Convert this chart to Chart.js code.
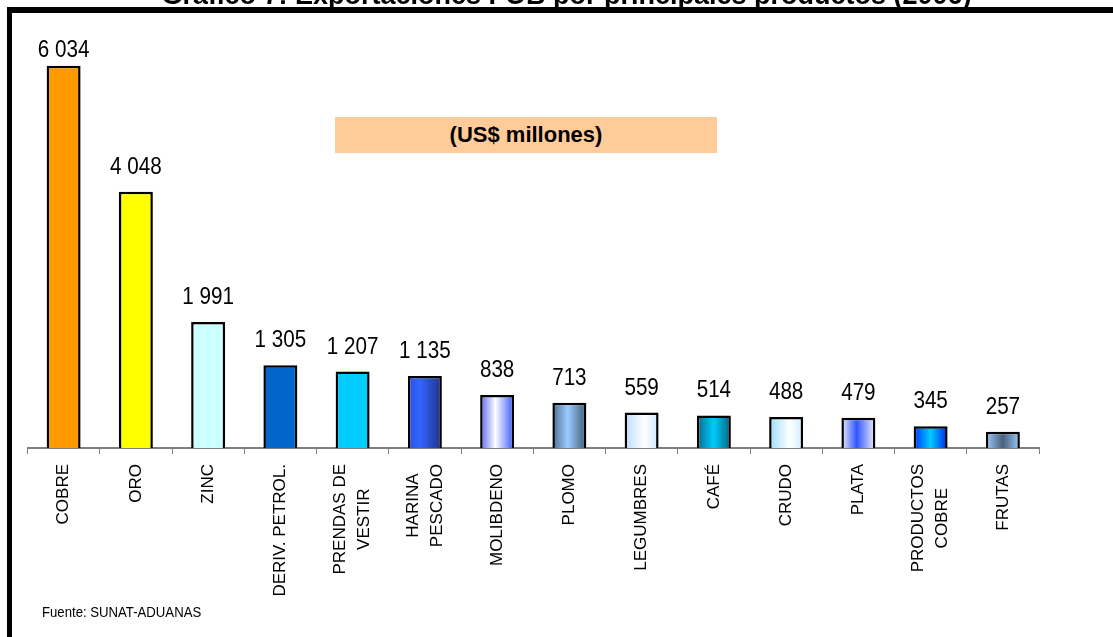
<!DOCTYPE html>
<html>
<head>
    <title>Exportaciones FOB por principales productos</title>
    <script src="https://cdn.jsdelivr.net/npm/chart.js@4.4.0/dist/chart.umd.min.js"></script>
    <style>
        body {
            margin: 0;
            width: 1113px;
            height: 637px;
            overflow: hidden;
            position: relative;
            background: #fff;
            font-family: "Liberation Sans", Arial, sans-serif;
        }
        #chart {
            position: absolute;
            left: 0;
            top: 0;
        }
        .title {
            position: absolute;
            left: 10px;
            width: 1113px;
            top: -18px;
            line-height: 27px;
            font-size: 27px;
            font-weight: bold;
            text-align: center;
            white-space: nowrap;
        }
        .frame-top {
            position: absolute;
            left: 7px;
            top: 7px;
            width: 1106px;
            height: 6px;
            background: #000;
        }
        .frame-left {
            position: absolute;
            left: 7px;
            top: 7px;
            width: 5px;
            height: 630px;
            background: #000;
        }
        .unit-box {
            position: absolute;
            left: 335px;
            top: 117px;
            width: 382px;
            height: 36px;
            line-height: 36px;
            background: #FFCC99;
            text-align: center;
            font-weight: bold;
            font-size: 22px;
        }
        .source {
            position: absolute;
            left: 42px;
            top: 604px;
            font-size: 14px;
            color: #000;
            transform: scaleX(0.94);
            transform-origin: left top;
        }
    </style>
</head>
<body>
    <canvas id="chart" width="1113" height="637"></canvas>
    <div class="title">Gráfico 7: Exportaciones FOB por principales productos (2006)</div>
    <div class="frame-top"></div>
    <div class="frame-left"></div>
    <div class="unit-box">(US$ millones)</div>
    <div class="source">Fuente: SUNAT-ADUANAS</div>

    <script>
        // Exportaciones 2006, US$ millones
        const categories = [
            ['COBRE'], ['ORO'], ['ZINC'], ['DERIV. PETROL.'], ['PRENDAS DE', 'VESTIR'],
            ['HARINA', 'PESCADO'], ['MOLIBDENO'], ['PLOMO'], ['LEGUMBRES'], ['CAFÉ'],
            ['CRUDO'], ['PLATA'], ['PRODUCTOS', 'COBRE'], ['FRUTAS']
        ];
        const values = [6034, 4048, 1991, 1305, 1207, 1135, 838, 713, 559, 514, 488, 479, 345, 257];

        // bar fills: left -> right colour stops
        const fills = [
            [[0, '#FF9900'], [1, '#FF9900']],
            [[0, '#FFFF00'], [1, '#FFFF00']],
            [[0, '#CCFFFF'], [1, '#CCFFFF']],
            [[0, '#0066CC'], [1, '#0066CC']],
            [[0, '#00CCFF'], [1, '#00CCFF']],
            [[0, '#2a4fe0'], [0.35, '#3366FF'], [1, '#1f3388']],
            [[0, '#5566ee'], [0.45, '#ffffff'], [1, '#3355ff']],
            [[0, '#4d6d90'], [0.45, '#99ccff'], [1, '#3f5a77']],
            [[0, '#bbddff'], [0.6, '#ffffff'], [1, '#cce6ff']],
            [[0, '#006a8a'], [0.5, '#00ccff'], [1, '#00607a']],
            [[0, '#99ddff'], [0.6, '#ffffff'], [1, '#ccefff']],
            [[0, '#eeeeff'], [0.45, '#3355ff'], [1, '#f0f0ff']],
            [[0, '#0033ff'], [0.5, '#00ccff'], [1, '#0022ee']],
            [[0, '#99ccff'], [0.5, '#4a5f7a'], [1, '#99ccff']]
        ];

        function fmt(v) {
            return String(v).replace(/\B(?=(\d{3})+(?!\d))/g, ' ');
        }

        function barFill(ctx) {
            const chart = ctx.chart;
            const stops = fills[ctx.dataIndex];
            if (!chart.chartArea || !chart.scales.x) return stops[0][1];
            const x = chart.scales.x.getPixelForValue(ctx.dataIndex);
            const g = chart.ctx.createLinearGradient(x - 17, 0, x + 17, 0);
            stops.forEach(s => g.addColorStop(s[0], s[1]));
            return g;
        }

        const labelsPlugin = {
            id: 'labels',
            afterDatasetsDraw(chart) {
                const c = chart.ctx;
                const xs = chart.scales.x, ys = chart.scales.y;
                c.save();
                c.fillStyle = '#000';

                // value labels (narrow look)
                c.font = '24px "Liberation Sans", Arial, sans-serif';
                c.textAlign = 'center';
                c.textBaseline = 'alphabetic';
                values.forEach((v, i) => {
                    const x = xs.getPixelForValue(i);
                    const y = Math.max(ys.getPixelForValue(v) - 18, 57);
                    c.save();
                    c.translate(x, y);
                    c.scale(0.86, 1);
                    c.fillText(fmt(v), 0, 0);
                    c.restore();
                });

                // category labels, rotated
                c.font = '17px "Liberation Sans", Arial, sans-serif';
                c.textBaseline = 'middle';
                const lh = 24;
                categories.forEach((lines, i) => {
                    const x = xs.getPixelForValue(i);
                    const maxW = Math.max(...lines.map(l => c.measureText(l).width));
                    c.save();
                    c.translate(x, xs.bottom + 10);
                    c.rotate(-Math.PI / 2);
                    lines.forEach((l, j) => {
                        const off = (j - (lines.length - 1) / 2) * lh;
                        c.fillText(l, -maxW / 2, off);
                    });
                    c.restore();
                });
                c.restore();
            }
        };

        new Chart(document.getElementById('chart'), {
            type: 'bar',
            data: {
                labels: categories,
                datasets: [{
                    data: values,
                    backgroundColor: barFill,
                    borderColor: '#000',
                    borderWidth: 2.5,
                    barPercentage: 0.47,
                    categoryPercentage: 1
                }]
            },
            options: {
                responsive: false,
                animation: false,
                layout: {
                    padding: { left: 27.5, right: 74, top: 30, bottom: 183 }
                },
                plugins: {
                    legend: { display: false },
                    tooltip: { enabled: false }
                },
                scales: {
                    x: {
                        offset: true,
                        grid: {
                            offset: true,
                            drawOnChartArea: false,
                            drawTicks: true,
                            tickLength: 6,
                            color: '#808080',
                            lineWidth: 1
                        },
                        border: { color: '#808080', width: 2 },
                        ticks: { display: false }
                    },
                    y: {
                        display: false,
                        min: 0,
                        max: 6600
                    }
                }
            },
            plugins: [labelsPlugin]
        });
    </script>
</body>
</html>
